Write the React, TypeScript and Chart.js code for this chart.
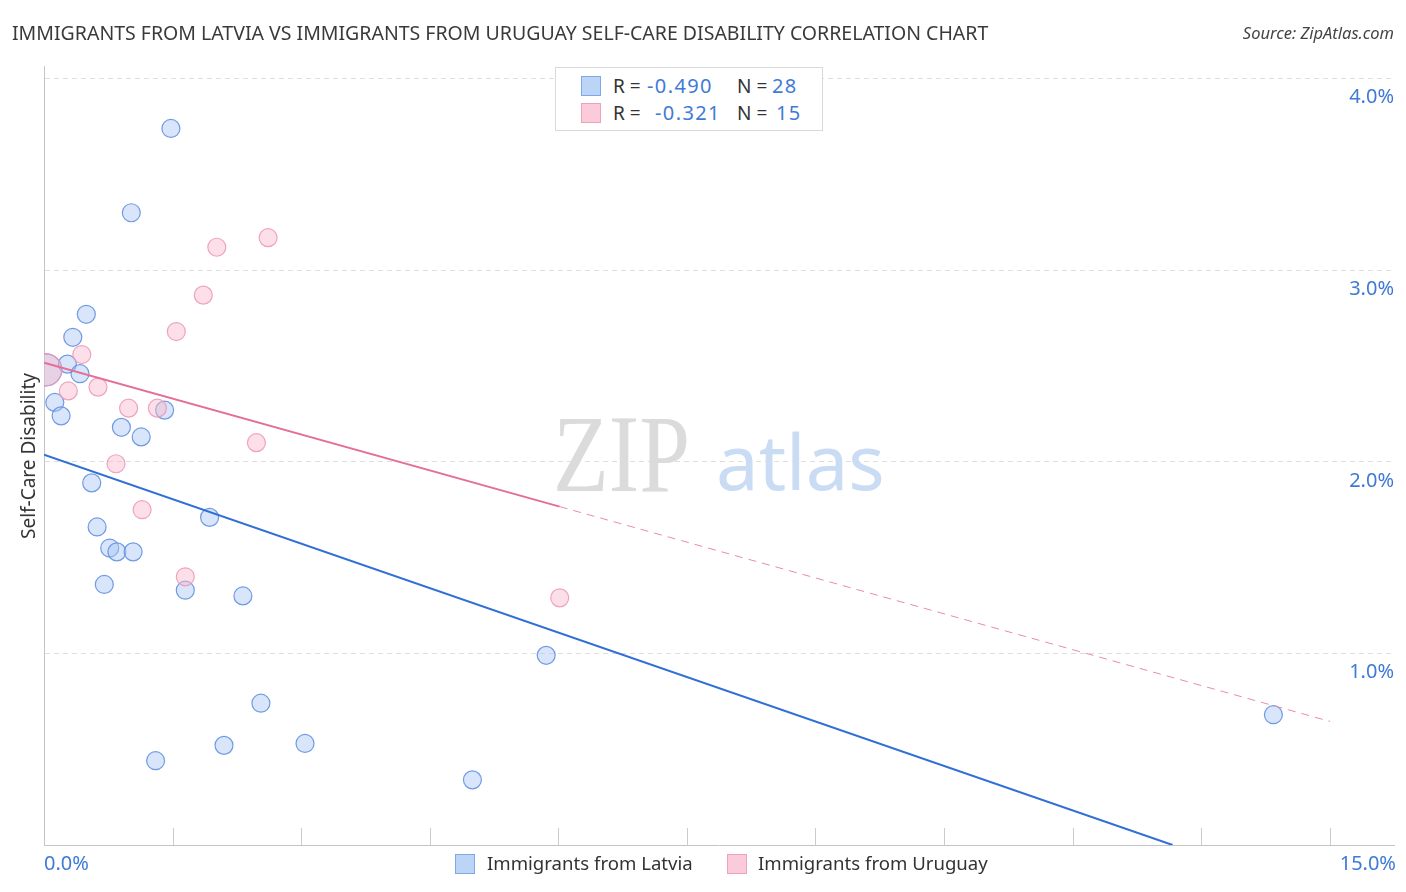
import React, { useEffect, useRef } from "react";
import { Chart, registerables } from "chart.js";
Chart.register(...registerables);

const latviaX = [0.02, 1.41, 0.97, 0.47, 0.32, 0.26, 0.4, 0.12, 0.19, 1.34, 0.86, 1.08, 0.53, 0.59, 1.84, 0.73, 0.81, 0.99, 0.67, 1.57, 2.21, 5.58, 2.41, 2.0, 2.9, 1.24, 4.76, 13.66];
const latviaY = [2.48, 3.74, 3.3, 2.77, 2.65, 2.51, 2.46, 2.31, 2.24, 2.27, 2.18, 2.13, 1.89, 1.66, 1.71, 1.55, 1.53, 1.53, 1.36, 1.33, 1.3, 0.99, 0.74, 0.52, 0.53, 0.44, 0.34, 0.68];
const uruguayX = [0.02, 2.49, 1.92, 1.77, 1.47, 0.42, 0.6, 0.27, 0.94, 1.26, 2.36, 0.8, 1.09, 1.57, 5.73];
const uruguayY = [2.48, 3.17, 3.12, 2.87, 2.68, 2.56, 2.39, 2.37, 2.28, 2.28, 2.1, 1.99, 1.75, 1.4, 1.29];
const latviaTrendX = [0, 12.54];
const latviaTrendY = [2.037, 0];
const uruguaySolidX = [0, 5.73];
const uruguaySolidY = [2.517, 1.766];
const uruguayDashX = [5.73, 14.29];
const uruguayDashY = [1.766, 0.645];
const yTickValues = [1, 2, 3, 4];
const yTickLabels = ["1.0%", "2.0%", "3.0%", "4.0%"];
const xTickMarks = [1, 2, 3, 4, 5, 6, 7, 8, 9, 10].map((i) => (i * 15) / 10.5);
const xMin = 0;
const xMax = 15;
const yMin = 0;
const yMax = 4.066;

const FONT = "'Noto Sans', 'Open Sans', sans-serif";
const BLUE_TXT = "#3f7ad6";

const toPts = (xs: number[], ys: number[]) => xs.map((x, i) => ({ x, y: ys[i] }));

const extras = {
  id: "extras",
  beforeDatasetsDraw(chart: any) {
    const { ctx } = chart;
    ctx.save();
    ctx.textBaseline = "alphabetic";
    ctx.save();
    ctx.translate(553, 491);
    ctx.scale(0.83, 1);
    ctx.font = "110px 'Liberation Serif', 'DejaVu Serif', serif";
    ctx.fillStyle = "#dbdbdb";
    ctx.textAlign = "left";
    ctx.fillText("ZIP", 0, 0);
    ctx.restore();
    ctx.font = "76px " + FONT;
    ctx.fillStyle = "#cadcf3";
    ctx.textAlign = "left";
    ctx.fillText("atlas", 716, 490);
    ctx.restore();
  },
  afterDraw(chart: any) {
    const { ctx, chartArea, scales } = chart;
    ctx.save();
    ctx.strokeStyle = "#cccccc";
    ctx.lineWidth = 1;
    xTickMarks.forEach((v) => {
      const px = Math.round(scales.x.getPixelForValue(v)) + 0.5;
      ctx.beginPath();
      ctx.moveTo(px, chartArea.bottom - 17);
      ctx.lineTo(px, chartArea.bottom);
      ctx.stroke();
    });
    ctx.font = "20px " + FONT;
    ctx.fillStyle = BLUE_TXT;
    ctx.textAlign = "right";
    ctx.textBaseline = "middle";
    yTickValues.forEach((v, i) => {
      ctx.fillText(yTickLabels[i], chartArea.right, scales.y.getPixelForValue(v) + 19);
    });
    ctx.restore();
  },
};

export default function App() {
  const ref = useRef<HTMLCanvasElement>(null);
  useEffect(() => {
    document.body.style.margin = "0";
    const chart = new Chart(ref.current!, {
      type: "scatter",
      data: {
        datasets: [
          {
            type: "line",
            data: toPts(latviaTrendX, latviaTrendY),
            borderColor: "#2f6fd6",
            borderWidth: 2,
            pointRadius: 0,
            order: 0,
          } as any,
          {
            type: "line",
            data: toPts(uruguaySolidX, uruguaySolidY),
            borderColor: "#e56e98",
            borderWidth: 2,
            pointRadius: 0,
            order: 0,
          },
          {
            type: "line",
            data: toPts(uruguayDashX, uruguayDashY),
            borderColor: "#ea8aab",
            borderWidth: 1,
            borderDash: [8, 6],
            pointRadius: 0,
            order: 0,
          },
          {
            data: toPts(uruguayX, uruguayY),
            backgroundColor: "rgba(248,185,205,0.45)",
            borderColor: "rgba(236,150,180,0.85)",
            borderWidth: 1.2,
            pointRadius: (c: any) => (c.dataIndex === 0 ? 16 : 9),
            order: 1,
          },
          {
            data: toPts(latviaX, latviaY),
            backgroundColor: "rgba(168,198,244,0.45)",
            borderColor: "rgba(90,140,222,0.85)",
            borderWidth: 1.2,
            pointRadius: (c: any) => (c.dataIndex === 0 ? 16 : 9),
            order: 2,
          },
        ],
      },
      options: {
        animation: false,
        responsive: false,
        layout: { autoPadding: false, padding: { left: 44, right: 12, top: 66, bottom: 47 } },
        plugins: { legend: { display: false }, tooltip: { enabled: false } },
        scales: {
          x: {
            type: "linear",
            min: xMin,
            max: xMax,
            ticks: { display: false },
            grid: { display: false, drawTicks: false },
            border: { display: true, color: "#c4c4c4", width: 1 },
          },
          y: {
            type: "linear",
            position: "left",
            min: yMin,
            max: yMax,
            afterBuildTicks: (s: any) => {
              s.ticks = yTickValues.map((v) => ({ value: v }));
            },
            ticks: { display: false },
            grid: { display: true, drawTicks: false, color: "#dedede", lineWidth: 1 },
            border: { display: true, color: "#c4c4c4", width: 1, dash: [5, 4] },
          },
        },
      },
      plugins: [extras],
    } as any);
    return () => chart.destroy();
  }, []);

  const abs = (s: React.CSSProperties): React.CSSProperties => ({ position: "absolute", whiteSpace: "nowrap", ...s });
  const sq = (bg: string, bd: string, left: number, top: number): React.CSSProperties =>
    abs({ left, top, width: 18, height: 18, background: bg, border: `1px solid ${bd}` });
  const val = (left: number, top: number): React.CSSProperties =>
    abs({ left, top, fontSize: 20, lineHeight: "26px", color: BLUE_TXT, letterSpacing: 1.4 });
  const lab = (left: number, top: number): React.CSSProperties =>
    abs({ left, top, fontSize: 19, lineHeight: "26px", color: "#333" });

  return (
    <div style={{ position: "relative", width: 1406, height: 892, fontFamily: FONT, color: "#333", overflow: "hidden" }}>
      <canvas ref={ref} width={1406} height={892} style={{ position: "absolute", left: 0, top: 0 }} />
      <div style={abs({ left: 12, top: 19, fontSize: 19.5, color: "#3a3a3a", lineHeight: "28px" })}>
        IMMIGRANTS FROM LATVIA VS IMMIGRANTS FROM URUGUAY SELF-CARE DISABILITY CORRELATION CHART
      </div>
      <div style={abs({ right: 12, top: 21, fontSize: 16.5, fontStyle: "italic", color: "#444", lineHeight: "24px" })}>
        Source: ZipAtlas.com
      </div>
      <div
        style={abs({
          left: 28,
          top: 456,
          transform: "translate(-50%, -50%) rotate(-90deg)",
          fontSize: 19,
          color: "#333",
        })}
      >
        Self-Care Disability
      </div>
      <div style={abs({ left: 555, top: 67, width: 266, height: 62, background: "#fff", border: "1px solid #d9d9d9" })}>
        <div style={sq("#bcd4f6", "#7fa8e6", 25, 8)} />
        <div style={lab(57, 5)}>R =</div>
        <div style={val(91, 5)}>-0.490</div>
        <div style={lab(181, 5)}>N =</div>
        <div style={val(216, 5)}>28</div>
        <div style={sq("#fbcbd9", "#eea3bd", 25, 35)} />
        <div style={lab(57, 32)}>R =</div>
        <div style={val(99, 32)}>-0.321</div>
        <div style={lab(181, 32)}>N =</div>
        <div style={val(220, 32)}>15</div>
      </div>
      <div style={abs({ left: 44, top: 850, fontSize: 20, lineHeight: "26px", color: BLUE_TXT })}>0.0%</div>
      <div style={abs({ right: 10, top: 850, fontSize: 20, lineHeight: "26px", color: BLUE_TXT })}>15.0%</div>
      <div style={sq("#bcd4f6", "#7fa8e6", 455, 854)} />
      <div style={abs({ left: 487, top: 850, fontSize: 18.6, lineHeight: "26px", color: "#333" })}>Immigrants from Latvia</div>
      <div style={sq("#fbcbd9", "#eea3bd", 727, 854)} />
      <div style={abs({ left: 758, top: 850, fontSize: 18.6, lineHeight: "26px", color: "#333" })}>Immigrants from Uruguay</div>
    </div>
  );
}
